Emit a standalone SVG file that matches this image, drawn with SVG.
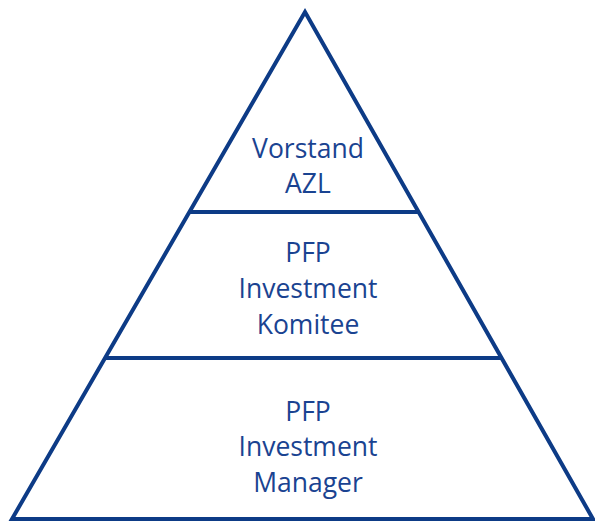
<svg xmlns="http://www.w3.org/2000/svg" width="595" height="521" viewBox="0 0 595 521">
<style>
.ln{stroke:#0d3b86;stroke-width:4;fill:none;stroke-linejoin:miter}
.t{font-family:"Open Sans","Noto Sans",sans-serif;font-size:26.5px;fill:#1a4391;text-anchor:middle}
</style>
<rect width="595" height="521" fill="#fff"/>
<g id="connectors">
<polygon class="ln" points="305,12 593,519 12,519"/>
<line class="ln" x1="189" y1="212" x2="419" y2="212"/>
<line class="ln" x1="105" y1="358" x2="502" y2="358"/>
</g>
<g id="top">
<text class="t" x="308" y="158">Vorstand</text>
<text class="t" x="308" y="193">AZL</text>
</g>
<g id="middle">
<text class="t" x="308" y="262">PFP</text>
<text class="t" x="308" y="298">Investment</text>
<text class="t" x="308" y="334">Komitee</text>
</g>
<g id="bottom">
<text class="t" x="308" y="421">PFP</text>
<text class="t" x="308" y="456">Investment</text>
<text class="t" x="308" y="492">Manager</text>
</g>
</svg>
